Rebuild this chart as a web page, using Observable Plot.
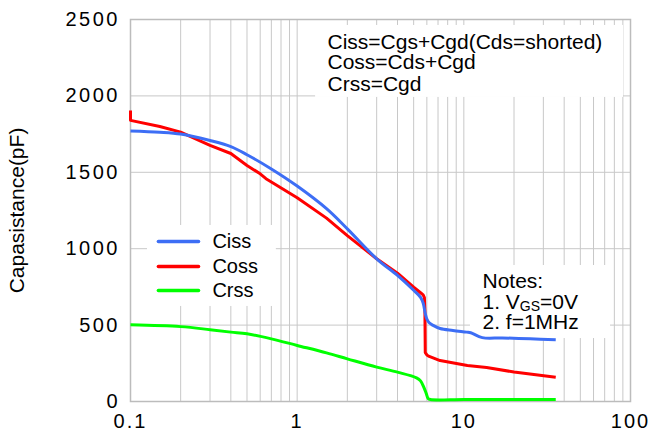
<!DOCTYPE html>
<html>
<head>
<meta charset="utf-8">
<script src="https://cdn.jsdelivr.net/npm/d3@7"></script>
<script src="https://cdn.jsdelivr.net/npm/@observablehq/plot@0.6"></script>
<style>
  html, body { margin: 0; padding: 0; background: #fff; }
  #chart svg { display: block; }
</style>
</head>
<body>
<div id="chart"></div>
<script>
// ---- Data ----
const seriesNames = ["Coss", "Ciss", "Crss"];
const seriesColors = ["#ff0000", "#3d6ef5", "#00ff00"];

// Ciss
const cissVds = [0.1, 0.15, 0.2, 0.3, 0.4, 0.5, 0.7, 1, 1.5, 2, 3, 4, 5, 5.5, 5.7, 5.87, 6.0, 6.2, 6.5, 7.2, 8.6, 10.4, 11.0, 12.9, 17, 25, 35.6];
const cissPf  = [1770, 1762, 1750, 1708, 1668, 1615, 1522, 1410, 1262, 1130, 934, 825, 728, 682, 645, 576, 540, 515, 500, 478, 465, 454, 450, 418, 416, 410, 404];

// Coss
const cossVds = [0.1, 0.1, 0.15, 0.2, 0.3, 0.4, 0.5, 0.6, 0.65, 0.7, 1, 1.5, 2, 3, 4, 5, 5.5, 5.7, 5.8, 5.84, 5.87, 6.0, 6.2, 7.2, 10.5, 13.7, 20, 35.6];
const cossPf  = [1905, 1840, 1800, 1763, 1676, 1623, 1545, 1490, 1458, 1437, 1333, 1200, 1086, 934, 840, 748, 712, 698, 680, 600, 320, 305, 295, 268, 236, 222, 193, 159];

// Crss
const crssVds = [0.1, 0.2, 0.3, 0.4, 0.5, 0.7, 1, 1.5, 2, 3, 4, 5.2, 5.5, 5.75, 5.95, 6.1, 6.3, 10, 20, 35.6];
const crssPf  = [502, 490, 470, 454, 443, 410, 367, 318, 279, 225, 192, 155, 135, 94, 52, 20, 13, 13, 13, 13];

// Axis ticks
const xTicks = [0.1, 1, 10, 100];
const xTickLabels = ["0.1", "1", "10", "100"];
const yTicks = [0, 500, 1000, 1500, 2000, 2500];
const yTickLabels = ["0", "500", "1000", "1500", "2000", "2500"];
const yTitle = "Capasistance(pF)";

// Annotation texts
const formulaLines = ["Ciss=Cgs+Cgd(Cds=shorted)", "Coss=Cds+Cgd", "Crss=Cgd"];
const notesLines = ["Notes:", "1. VGS=0V", "2. f=1MHz"];
const legendNames = ["Ciss", "Coss", "Crss"];

// ---- Build tables ----
const cossRows = cossVds.map((v, i) => ({series: "Coss", v, c: cossPf[i]}));
const smoothRows = [
  ...cissVds.map((v, i) => ({series: "Ciss", v, c: cissPf[i]})),
  ...crssVds.map((v, i) => ({series: "Crss", v, c: crssPf[i]}))
];

// log grid: 1..9 in each decade
const gridX = [];
[0.1, 1, 10].forEach(d => { for (let k = 1; k <= 9; k++) gridX.push(+(k * d).toPrecision(3)); });
gridX.push(100);

// annotation placement (data coordinates)
const boxes = [
  {x1: 1.29, x2: 90.8, y1: 1990, y2: 2461},   // formula box
  {x1: 0.1265, x2: 0.75, y1: 622, y2: 1152},   // legend box
  {x1: 10.96, x2: 75.9, y1: 412, y2: 890}      // notes box
];
const formulaRows = formulaLines.map((t, i) => ({t, x: 1.52, y: [2348, 2217, 2079][i]}));
const notesRows = notesLines.map((t, i) => ({t, x: 12.94, y: [790, 648, 517][i]}));
const legendRows = legendNames.map((name, i) => ({name, y: [1047, 884, 727][i]}));

const fam = "'Liberation Sans', Arial, Helvetica, sans-serif";

const chart = Plot.plot({
  width: 651,
  height: 435,
  marginLeft: 130,
  marginRight: 21,
  marginTop: 19,
  marginBottom: 34,
  style: {fontFamily: fam, fontSize: "20px", color: "#000", background: "#fff"},
  x: {type: "log", domain: [0.1, 100]},
  y: {domain: [0, 2500]},
  color: {domain: seriesNames, range: seriesColors},
  marks: [
    Plot.ruleX(gridX, {stroke: "#c8c8c8", strokeWidth: 1}),
    Plot.ruleY(yTicks, {stroke: "#c8c8c8", strokeWidth: 1}),
    Plot.frame({stroke: "#bcbcbc", strokeWidth: 1.5}),
    Plot.rect(boxes, {x1: "x1", x2: "x2", y1: "y1", y2: "y2", fill: "#fff"}),
    Plot.line(cossRows, {x: "v", y: "c", z: "series", stroke: "series", strokeWidth: 3, curve: "linear", strokeLinejoin: "round", strokeLinecap: "butt"}),
    Plot.line(smoothRows, {x: "v", y: "c", z: "series", stroke: "series", strokeWidth: 3, curve: "catmull-rom", strokeLinejoin: "round", strokeLinecap: "butt"}),
    Plot.axisX(xTicks, {tickSize: 0, tickPadding: 12, fontSize: 20, tickFormat: d => xTickLabels[xTicks.indexOf(d)], label: null}),
    Plot.axisY(yTicks, {tickSize: 0, tickPadding: 10.5, fontSize: 20, tickFormat: d => yTickLabels[yTicks.indexOf(d)], label: null}),
    Plot.text([yTitle], {frameAnchor: "left", textAnchor: "middle", rotate: -90, dx: -113.5, fontSize: 21, fill: "#000"}),
    Plot.link(legendRows, {x1: 0.147, x2: 0.256, y1: "y", y2: "y", stroke: "name", strokeWidth: 3.5, strokeLinecap: "round"}),
    Plot.text(legendRows, {x: 0.31, y: "y", text: "name", textAnchor: "start", fontSize: 20, fill: "#000"}),
    Plot.text(formulaRows, {x: "x", y: "y", text: "t", textAnchor: "start", fontSize: 21, fill: "#000"}),
    Plot.text(notesRows, {x: "x", y: "y", text: "t", textAnchor: "start", fontSize: 21, fill: "#000"})
  ]
});

document.getElementById("chart").appendChild(chart);

// letter spacing on tick labels (reference digits are wide-set)
d3.select(chart).selectAll('g[aria-label="y-axis tick label"] text').style("letter-spacing", "2.5px");
d3.select(chart).selectAll('g[aria-label="x-axis tick label"] text').style("letter-spacing", "2px");

// subscript for V_GS
d3.select(chart).selectAll("text").filter(function () { return this.textContent === "1. VGS=0V"; })
  .each(function () {
    const t = d3.select(this);
    t.text(null);
    t.append("tspan").text("1. V");
    t.append("tspan").attr("font-size", 14).attr("dy", 2).text("GS");
    t.append("tspan").attr("dy", -2).text("=0V");
  });
</script>
</body>
</html>
